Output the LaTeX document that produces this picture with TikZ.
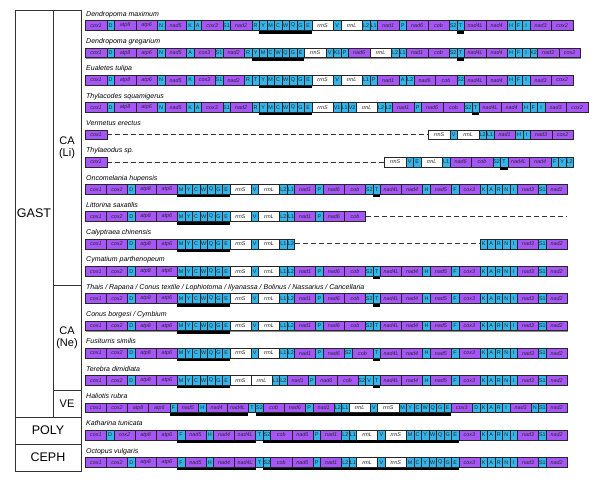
\documentclass[tikz,border=0pt]{standalone}
\usepackage{fontspec}
\setmainfont{Liberation Sans}
\usetikzlibrary{shadows}
\definecolor{gpurple}{RGB}{166,86,246}
\definecolor{gblue}{RGB}{51,180,235}
\newcommand\gfont{\fontsize{5.4}{5.4}\selectfont}
\newcommand\generow[4]{%
  \xdef\gx{#3}%
  \foreach \ty/\nm [count=\k] in {#4}{%
    \edef\gw{\csname gw\ty\endcsname}%
    \node[gene\ty, minimum width=\gw pt] (#1-\k) at (\gx,#2) {\nm};
    \pgfmathsetmacro\gnx{\gx+\gw}%
    \xdef\gx{\gnx}%
  }%
}
\def\gwP{\gwp}\def\gwT{\gwt}\def\gwR{\gwr}
\begin{document}
\begin{tikzpicture}[x=1pt,y=-1pt,
  gbase/.style={draw=black!85, line width=0.6pt, minimum height=9.8pt, inner sep=0pt, anchor=west,
    font=\gfont, text=black!85,
    drop shadow={shadow xshift=0.6pt, shadow yshift=-0.8pt, fill=black!45, opacity=1}},
  genep/.style={gbase, fill=gpurple, font=\gfont\itshape},
  genet/.style={gbase, fill=gblue},
  gener/.style={gbase, fill=white, font=\gfont\itshape},
  ulbar/.style={fill=black, inner sep=0pt, minimum height=2.6pt, minimum width=\gw pt},
  geneP/.style={genep, label={[ulbar]below:{}}},
  geneT/.style={genet, label={[ulbar]below:{}}},
  geneR/.style={gener, label={[ulbar]below:{}}},
  splab/.style={anchor=base west, inner sep=0pt, font=\fontsize{7}{7}\selectfont\itshape},
  dashline/.style={draw=black!80, line width=0.9pt, dash pattern=on 5pt off 3pt},
  panel/.style={draw=black!80, line width=0.9pt},
  grp/.style={font=\fontsize{12.5}{13}\selectfont, align=center, inner sep=0pt},
  sub/.style={font=\fontsize{11}{12}\selectfont, align=center, inner sep=0pt}]
\useasboundingbox (0,0) rectangle (600,490);
% left panel
\draw[panel] (15,10) rectangle (81,471);
\draw[panel] (53,10) -- (53,417);
\draw[panel] (15,417) -- (81,417);
\draw[panel] (15,444) -- (81,444);
\draw[panel] (53,285) -- (81,285);
\draw[panel] (53,390) -- (81,390);
\node[grp] (gast) at (34,213.5) {GAST};
\node[sub] (cali) at (67,147.5) {CA\\(Li)};
\node[sub] (cane) at (67,337.5) {CA\\(Ne)};
\node[sub] (ve) at (67,403.5) {VE};
\node[grp] (poly) at (48,430.5) {POLY};
\node[grp] (ceph) at (48,457.5) {CEPH};
% species labels
\node[splab] (l1) at (86,16.2) {Dendropoma maximum};
\node[splab] (l2) at (86,43.5) {Dendropoma gregarium};
\node[splab] (l3) at (86,70.8) {Eualetes tulipa};
\node[splab] (l4) at (86,98.1) {Thylacodes squamigerus};
\node[splab] (l5) at (86,125.4) {Vermetus erectus};
\node[splab] (l6) at (86,152.7) {Thylaeodus sp.};
\node[splab] (l7) at (86,180.0) {Oncomelania hupensis};
\node[splab] (l8) at (86,207.3) {Littorina saxatilis};
\node[splab] (l9) at (86,234.6) {Calyptraea chinensis};
\node[splab] (l10) at (86,261.9) {Cymatium parthenopeum};
\node[splab] (l11) at (86,289.2) {Thais / Rapana / Conus textile / Lophiotoma / Ilyanassa / Bolinus / Nassarius / Cancellaria};
\node[splab] (l12) at (86,316.5) {Conus borgesi / Cymbium};
\node[splab] (l13) at (86,343.8) {Fusiturris similis};
\node[splab] (l14) at (86,371.1) {Terebra dimidiata};
\node[splab] (l15) at (86,398.4) {Haliotis rubra};
\node[splab] (l16) at (86,425.7) {Katharina tunicata};
\node[splab] (l17) at (86,453.0) {Octopus vulgaris};
% rows 1-6
\def\gwp{21.5}\def\gwr{21.5}\def\gwt{7.5}
\generow{r1}{25.5}{85}{p/cox1,t/D,p/atp8,p/atp6,t/N,p/nad5,t/K,t/A,p/cox3,t/S1,p/nad2,t/R,T/Y,T/M,T/C,T/W,T/Q,T/G,T/E,r/rrnS,t/V,r/rrnL,t/L2,t/L1,p/nad1,t/P,p/nad6,p/cob,t/S2,T/T,p/nad4L,p/nad4,t/H,t/F,t/I,p/nad3,p/cox2}
\generow{r2}{52.8}{85}{p/cox1,t/D,p/atp8,p/atp6,t/N,p/nad5,t/A,p/cox3,t/S1,p/nad2,t/R,T/Y,T/M,T/C,T/W,T/Q,T/G,T/E,r/rrnS,t/V,t/K1,t/P,p/nad6,r/rrnL,t/L2,t/L1,p/nad1,p/cob,t/S2,T/T,p/nad4L,p/nad4,t/H,t/F,t/I,t/K2,p/nad3,p/cox2}
\generow{r3}{80.1}{85}{p/cox1,t/D,p/atp8,p/atp6,t/N,p/nad5,t/K,p/cox3,t/S1,p/nad2,t/R,t/T,T/Y,T/M,T/C,T/W,T/Q,T/G,T/E,r/rrnS,t/V,r/rrnL,t/L1,t/P,p/nad1,t/A,t/L2,p/nad6,p/cob,t/S2,p/nad4L,p/nad4,t/H,t/F,t/I,p/nad3,p/cox2}
\generow{r4}{107.4}{85}{p/cox1,t/D,p/atp8,p/atp6,t/N,p/nad5,t/K,t/A,p/cox3,t/S1,p/nad2,t/R,T/Y,T/M,T/C,T/W,T/Q,T/G,T/E,r/rrnS,t/V1,t/L1,t/V2,r/rrnL,t/L2,t/L2,p/nad1,t/P,p/nad6,p/cob,t/S2,T/T,p/nad4L,p/nad4,t/H,t/F,t/I,p/nad3,p/cox2}
\generow{r5a}{134.7}{85}{p/cox1}
\generow{r5b}{134.7}{428}{r/rrnS,t/V,r/rrnL,t/L2,t/L1,p/nad1,t/H,t/I,p/nad3,p/cox2}
\draw[dashline] (r5a-1.east) -- (r5b-1.west);
\generow{r6a}{162.0}{85}{p/cox1}
\generow{r6b}{162.0}{384}{r/rrnS,t/V,t/E,r/rrnL,t/L1,p/nad6,p/cob,t/S2,T/T,p/nad4L,p/nad4,t/F,t/Y,t/L2}
\draw[dashline] (r6a-1.east) -- (r6b-1.west);
% rows 7-17
\def\gwp{21.13}\def\gwr{21.13}\def\gwt{7.5}
\generow{r7}{189.3}{85}{p/cox1,p/cox2,t/D,p/atp8,p/atp6,T/M,T/Y,T/C,T/W,T/Q,T/G,T/E,r/rrnS,t/V,r/rrnL,t/L2,t/L1,p/nad1,t/P,p/nad6,p/cob,t/S2,T/T,p/nad4L,p/nad4,t/H,p/nad5,t/F,p/cox3,t/K,t/A,t/R,t/N,t/I,p/nad3,t/S1,p/nad2}
\generow{r8}{216.6}{85}{p/cox1,p/cox2,t/D,p/atp8,p/atp6,T/M,T/Y,T/C,T/W,T/Q,T/G,T/E,r/rrnS,t/V,r/rrnL,t/L2,t/L1,p/nad1,t/P,p/nad6,p/cob}
\coordinate (r8end) at (567,216.6);
\draw[dashline] (r8-21.east) -- (r8end);
\generow{r9a}{243.9}{85}{p/cox1,p/cox2,t/D,p/atp8,p/atp6,T/M,T/Y,T/C,T/W,T/Q,T/G,T/E,r/rrnS,t/V,r/rrnL,t/L1,t/L2}
\generow{r9b}{243.9}{479.7}{t/K,t/A,t/R,t/N,t/I,p/nad3,t/S1,p/nad2}
\draw[dashline] (r9a-17.east) -- (r9b-1.west);
\generow{r10}{271.2}{85}{p/cox1,p/cox2,t/D,p/atp8,p/atp6,T/M,T/Y,T/C,T/W,T/Q,T/G,T/E,r/rrnS,t/V,r/rrnL,t/L1,t/L2,p/nad1,t/P,p/nad6,p/cob,t/S2,T/T,p/nad4L,p/nad4,t/H,p/nad5,t/F,p/cox3,t/K,t/A,t/R,t/N,t/I,p/nad3,t/S1,p/nad2}
\generow{r11}{298.5}{85}{p/cox1,p/cox2,t/D,p/atp8,p/atp6,T/M,T/Y,T/C,T/W,T/Q,T/G,T/E,r/rrnS,t/V,r/rrnL,t/L1,t/L2,p/nad1,t/P,p/nad6,p/cob,t/S2,T/T,p/nad4L,p/nad4,t/H,p/nad5,t/F,p/cox3,t/K,t/A,t/R,t/N,t/I,p/nad3,t/S1,p/nad2}
\generow{r12}{325.8}{85}{p/cox1,p/cox2,t/D,p/atp8,p/atp6,T/M,T/Y,T/C,T/W,T/Q,T/G,T/E,r/rrnS,t/V,r/rrnL,t/L1,t/L2,p/nad1,t/P,p/nad6,p/cob,t/S2,t/T,p/nad4L,p/nad4,t/H,p/nad5,t/F,p/cox3,t/K,t/A,t/R,t/N,t/I,p/nad3,t/S1,p/nad2}
\generow{r13}{353.1}{85}{p/cox1,p/cox2,t/D,p/atp8,p/atp6,T/M,T/Y,T/C,T/W,T/Q,T/G,T/E,r/rrnS,t/V,r/rrnL,t/L1,t/L2,p/nad1,t/P,p/nad6,t/S2,p/cob,T/T,p/nad4L,p/nad4,t/H,p/nad5,t/F,p/cox3,t/K,t/A,t/R,t/N,t/I,p/nad3,t/S1,p/nad2}
\generow{r14}{380.4}{85}{p/cox1,p/cox2,t/D,p/atp8,p/atp6,T/M,T/Y,T/C,T/W,T/Q,T/G,T/E,r/rrnS,r/rrnL,t/L1,t/L2,p/nad1,t/P,p/nad6,p/cob,t/S2,t/V,T/T,p/nad4L,p/nad4,t/H,p/nad5,t/F,p/cox3,t/K,t/A,t/R,t/N,t/I,p/nad3,t/S1,p/nad2}
\generow{r15}{407.7}{85}{p/cox1,p/cox2,p/atp8,p/atp6,T/F,P/nad5,T/H,P/nad4,P/nad4L,t/T,T/S2,P/cob,P/nad6,T/P,P/nad1,T/L2,T/L1,R/rrnL,T/V,R/rrnS,T/M,T/Y,T/C,T/W,T/Q,T/G,T/E,p/cox3,t/D,t/K,t/A,t/R,t/I,p/nad3,t/N,t/S1,p/nad2}
\generow{r16}{435.0}{85}{p/cox1,t/D,p/cox2,p/atp8,p/atp6,T/F,P/nad5,T/H,P/nad4,P/nad4L,t/T,T/S2,P/cob,P/nad6,T/P,P/nad1,T/L2,T/L1,R/rrnL,T/V,R/rrnS,T/M,T/C,T/Y,T/W,T/Q,T/G,T/E,p/cox3,t/K,t/A,t/R,t/N,t/I,p/nad3,t/S1,p/nad2}
\generow{r17}{462.3}{85}{p/cox1,p/cox2,t/D,p/atp8,p/atp6,T/F,P/nad5,T/H,P/nad4,P/nad4L,t/T,T/S2,P/cob,P/nad6,T/P,P/nad1,T/L2,T/L1,R/rrnL,T/V,R/rrnS,T/M,T/C,T/Y,T/W,T/Q,T/G,T/E,p/cox3,t/K,t/A,t/R,t/N,t/I,p/nad3,t/S1,p/nad2}
\end{tikzpicture}
\end{document}
